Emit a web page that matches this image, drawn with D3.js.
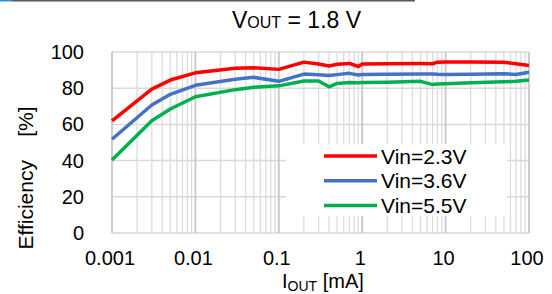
<!DOCTYPE html>
<html>
<head>
<meta charset="utf-8">
<script src="https://cdn.jsdelivr.net/npm/d3@7"></script>
<style>
  body { margin: 0; background: #fff; }
  svg { display: block; font-family: "Liberation Sans", Arial, sans-serif; }
</style>
</head>
<body>
<div id="chart"></div>
<script>
// load current in mA
var iout = [0.001, 0.003, 0.005, 0.01, 0.03, 0.05, 0.1, 0.2, 0.3, 0.4, 0.5, 0.7, 0.9, 1, 2, 5, 7, 8, 10, 20, 50, 70, 100];
// efficiency in %
var vin23 = [62, 79.5, 84.5, 88.5, 91, 91.3, 90.4, 94.4, 93.4, 92.3, 93.2, 93.7, 92, 93.4, 93.5, 93.6, 93.5, 94.4, 94.5, 94.5, 94.3, 93.5, 92.6];
var vin36 = [51.8, 70.7, 76.6, 81.6, 85, 86, 83.8, 87.8, 87.4, 87, 87.5, 88.2, 87.3, 87.6, 87.7, 87.8, 87.9, 87.7, 87.6, 87.7, 88, 87.6, 88.8];
var vin55 = [40.3, 62, 68.5, 75.3, 79.2, 80.5, 81.3, 84, 84, 80.8, 82.6, 83.2, 83, 83.2, 83.3, 83.8, 82, 82.3, 82.5, 83, 83.5, 83.8, 84.5];
var seriesNames = ["Vin=2.3V", "Vin=3.6V", "Vin=5.5V"];
var xTicks = [0.001, 0.01, 0.1, 1, 10, 100];
var xTickLabels = ["0.001", "0.01", "0.1", "1", "10", "100"];
var yTicks = [0, 20, 40, 60, 80, 100];

var width = 552, height = 294;
var colors = ["#ff0000", "#4472c4", "#00b050"];
var series = [vin23, vin36, vin55];

var x = d3.scaleLog().domain([0.001, 100]).range([112, 529]);
var y = d3.scaleLinear().domain([0, 100]).range([233, 52]);

var svg = d3.select("#chart").append("svg")
    .attr("width", width)
    .attr("height", height);

// thin rule at the very top
svg.append("line").attr("x1", 12).attr("x2", 415).attr("y1", 0.75).attr("y2", 0.75)
    .attr("stroke", "#595959").attr("stroke-width", 1.5);
svg.append("line").attr("x1", 0).attr("x2", 12).attr("y1", 0.75).attr("y2", 0.75)
    .attr("stroke", "#2f8fd8").attr("stroke-width", 1.5);

// grid
var minor = [];
for (var e = -3; e < 2; e++) {
    for (var k = 2; k <= 9; k++) minor.push(k * Math.pow(10, e));
}
var grid = svg.append("g");
grid.selectAll(".vminor").data(minor).enter().append("line")
    .attr("x1", function (d) { return x(d); })
    .attr("x2", function (d) { return x(d); })
    .attr("y1", y(0)).attr("y2", y(100))
    .attr("stroke", "#dcdcdc").attr("stroke-width", 1.3);
grid.selectAll(".h").data(yTicks).enter().append("line")
    .attr("x1", x(0.001)).attr("x2", x(100))
    .attr("y1", function (d) { return y(d); })
    .attr("y2", function (d) { return y(d); })
    .attr("stroke", "#d9d9d9").attr("stroke-width", 1.5);
grid.selectAll(".vmajor").data(xTicks).enter().append("line")
    .attr("x1", function (d) { return x(d); })
    .attr("x2", function (d) { return x(d); })
    .attr("y1", y(0)).attr("y2", y(100))
    .attr("stroke", "#c8c8c8").attr("stroke-width", 1.8);

// tick labels
svg.selectAll(".ytl").data(yTicks).enter().append("text")
    .attr("x", 84)
    .attr("y", function (d) { return y(d) + 7; })
    .attr("text-anchor", "end")
    .attr("font-size", 20)
    .attr("fill", "#000")
    .text(function (d) { return d; });
svg.selectAll(".xtl").data(xTicks).enter().append("text")
    .attr("x", function (d) { return x(d) - 2; })
    .attr("y", 265)
    .attr("text-anchor", "middle")
    .attr("font-size", 20)
    .attr("fill", "#000")
    .text(function (d, i) { return xTickLabels[i]; });

// series lines
var line = d3.line()
    .x(function (d, i) { return x(iout[i]); })
    .y(function (d) { return y(d); });
svg.selectAll(".series").data(series).enter().append("path")
    .attr("d", line)
    .attr("fill", "none")
    .attr("stroke", function (d, i) { return colors[i]; })
    .attr("stroke-width", 3.5)
    .attr("stroke-linejoin", "round");

// legend
var legend = svg.append("g");
legend.append("rect")
    .attr("x", 286).attr("y", 144).attr("width", 221).attr("height", 72)
    .attr("fill", "#fff");
var li = legend.selectAll(".li").data(seriesNames).enter().append("g")
    .attr("transform", function (d, i) { return "translate(0," + (156 + i * 24.8) + ")"; });
li.append("line")
    .attr("x1", 324).attr("x2", 377).attr("y1", 0).attr("y2", 0)
    .attr("stroke", function (d, i) { return colors[i]; })
    .attr("stroke-width", 3.5);
li.append("text")
    .attr("x", 381).attr("y", 7.5)
    .attr("font-size", 21)
    .attr("fill", "#000")
    .text(function (d) { return d; });

// title
var title = svg.append("text")
    .attr("x", 232).attr("y", 28)
    .attr("font-size", 23)
    .attr("fill", "#000");
title.append("tspan").text("V");
title.append("tspan").attr("font-size", 16).text("OUT");
title.append("tspan").text(" = 1.8 V");

// axis titles
var xl = svg.append("text")
    .attr("x", 282).attr("y", 288)
    .attr("font-size", 20)
    .attr("fill", "#000");
xl.append("tspan").text("I");
xl.append("tspan").attr("font-size", 14).attr("dy", 2.5).text("OUT");
xl.append("tspan").attr("dy", -2.5).text(" [mA]");

svg.append("text")
    .attr("transform", "translate(33,178) rotate(-90)")
    .attr("text-anchor", "middle")
    .attr("font-size", 21)
    .attr("fill", "#000")
    .style("white-space", "pre")
    .text("Efficiency    [%]");
</script>
</body>
</html>
